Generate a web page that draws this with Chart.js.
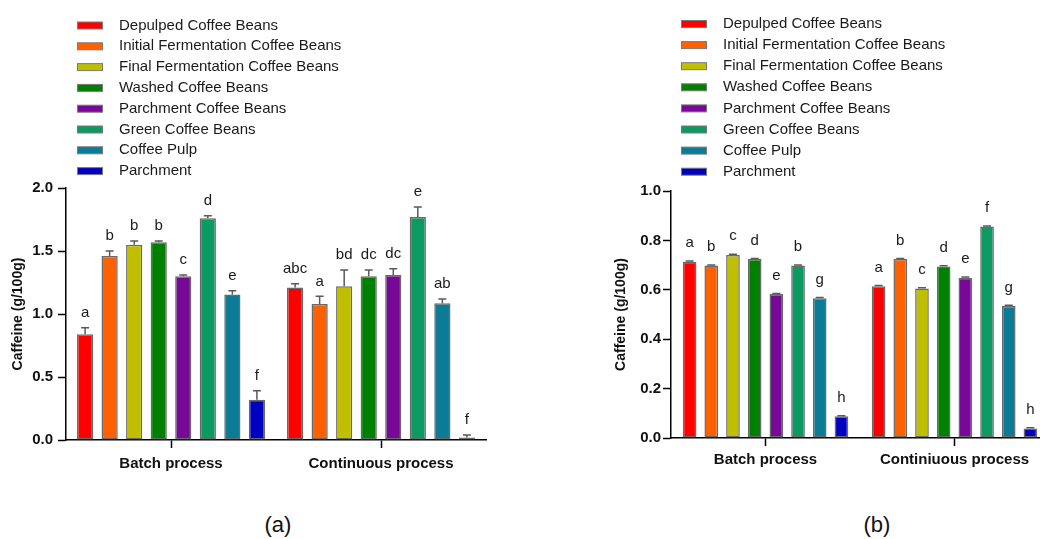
<!DOCTYPE html>
<html>
<head>
<meta charset="utf-8">
<script src="https://cdn.jsdelivr.net/npm/chart.js@4.4.0/dist/chart.umd.min.js"></script>
<style>
  html, body { margin: 0; padding: 0; background: #fff; overflow: hidden; width: 1040px; height: 539px; }
  .panel { position: absolute; top: 0; }
  #panelA { left: 0; }
  #panelB { left: 600px; }
  .cap { position: absolute; top: 512px; width: 60px; text-align: center; font: 22px 'Liberation Sans', Arial, sans-serif; color: #111; }
</style>
</head>
<body>
<canvas id="panelA" class="panel" width="500" height="480"></canvas>
<canvas id="panelB" class="panel" width="450" height="480"></canvas>
<div class="cap" style="left:248px">(a)</div>
<div class="cap" style="left:847px">(b)</div>
<script>
// categories and series
const beanTypes = ['Depulped Coffee Beans', 'Initial Fermentation Coffee Beans', 'Final Fermentation Coffee Beans',
  'Washed Coffee Beans', 'Parchment Coffee Beans', 'Green Coffee Beans', 'Coffee Pulp', 'Parchment'];
const beanColors = ['#ff0000', '#ff6000', '#bfbf00', '#008000', '#780898', '#0b9a62', '#0b7b96', '#0000c0'];

const processesA = ['Batch process', 'Continuous process'];
const processesB = ['Batch process', 'Continiuous process'];

// panel (a)
const caffeineBatchA = [0.84, 1.46, 1.55, 1.57, 1.30, 1.76, 1.155, 0.32];
const caffeineContA  = [1.21, 1.08, 1.22, 1.30, 1.31, 1.77, 1.085, 0.02];
const errBatchA = [0.05, 0.04, 0.03, 0.01, 0.01, 0.02, 0.03, 0.07];
const errContA  = [0.03, 0.06, 0.13, 0.05, 0.05, 0.08, 0.035, 0.02];
const lettersBatchA = ['a', 'b', 'b', 'b', 'c', 'd', 'e', 'f'];
const lettersContA  = ['abc', 'a', 'bd', 'dc', 'dc', 'e', 'ab', 'f'];

// panel (b)
const caffeineBatchB = [0.714, 0.698, 0.741, 0.725, 0.583, 0.698, 0.566, 0.088];
const caffeineContB  = [0.614, 0.725, 0.605, 0.694, 0.649, 0.856, 0.534, 0.038];
const errBatchB = [0.003, 0.002, 0.003, 0.002, 0.002, 0.002, 0.003, 0.002];
const errContB  = [0.003, 0.002, 0.003, 0.003, 0.003, 0.002, 0.003, 0.003];
const lettersBatchB = ['a', 'b', 'c', 'd', 'e', 'b', 'g', 'h'];
const lettersContB  = ['a', 'b', 'c', 'd', 'e', 'f', 'g', 'h'];

const FONT = "'Liberation Sans', Arial, sans-serif";

// one-sided error bars + significance letters
const errorLetters = {
  id: 'errorLetters',
  afterDatasetsDraw(chart, args, opts) {
    const ctx = chart.ctx;
    const y = chart.scales.y;
    chart.data.datasets.forEach((ds, i) => {
      chart.getDatasetMeta(i).data.forEach((bar, j) => {
        const top = y.getPixelForValue(ds.data[j] + ds.errors[j]);
        ctx.save();
        ctx.strokeStyle = '#5a5a5a';
        ctx.lineWidth = 1.5;
        ctx.beginPath();
        ctx.moveTo(bar.x, bar.y);
        ctx.lineTo(bar.x, top);
        ctx.moveTo(bar.x - opts.cap, top);
        ctx.lineTo(bar.x + opts.cap, top);
        ctx.stroke();
        ctx.fillStyle = '#1a1a1a';
        ctx.font = '15px ' + FONT;
        ctx.textAlign = 'center';
        ctx.textBaseline = 'middle';
        ctx.fillText(ds.letters[j], bar.x, top - opts.gap);
        ctx.restore();
      });
    });
  }
};

// vertical legend in the top-left corner
const sideLegend = {
  id: 'sideLegend',
  afterDraw(chart, args, opts) {
    const ctx = chart.ctx;
    ctx.save();
    chart.data.datasets.forEach((ds, i) => {
      const yc = opts.y0 + i * opts.step;
      ctx.fillStyle = ds.backgroundColor;
      ctx.fillRect(opts.x, yc - 3.5, 26, 7);
      ctx.strokeStyle = '#7a7a7a';
      ctx.lineWidth = 1;
      ctx.strokeRect(opts.x + 0.5, yc - 3.5, 25, 7);
      ctx.fillStyle = '#1a1a1a';
      ctx.font = '15px ' + FONT;
      ctx.textAlign = 'left';
      ctx.textBaseline = 'middle';
      ctx.fillText(ds.label, opts.textX, yc);
    });
    ctx.restore();
  }
};

function makeDatasets(batch, cont, errB, errC, letB, letC, barPct, catPct) {
  return beanTypes.map((name, i) => ({
    label: name,
    data: [batch[i], cont[i]],
    errors: [errB[i], errC[i]],
    letters: [letB[i], letC[i]],
    backgroundColor: beanColors[i],
    borderColor: '#6a6a6a',
    borderWidth: 1.5,
    borderSkipped: false,
    barPercentage: barPct,
    categoryPercentage: catPct
  }));
}

function makeChart(id, labels, datasets, cfg) {
  return new Chart(document.getElementById(id), {
    type: 'bar',
    data: { labels: labels, datasets: datasets },
    plugins: [errorLetters, sideLegend],
    options: {
      responsive: false,
      animation: false,
      layout: { padding: { top: cfg.top, right: cfg.right, left: 0, bottom: 0 } },
      plugins: {
        legend: { display: false },
        tooltip: { enabled: false },
        errorLetters: { cap: cfg.cap, gap: cfg.gap },
        sideLegend: { x: cfg.legX, textX: cfg.legTextX, y0: cfg.legY0, step: cfg.legStep }
      },
      scales: {
        x: {
          afterFit: s => { s.height = cfg.xHeight; },
          grid: { display: true, drawOnChartArea: false, offset: false, color: '#000', tickLength: 8, tickWidth: 1.5 },
          border: { color: '#000', width: 1.5 },
          ticks: { color: '#111', padding: cfg.xPad, font: { family: FONT, size: 15, weight: 'bold' } }
        },
        y: {
          min: 0,
          max: cfg.max,
          afterFit: s => { s.width = cfg.yWidth; },
          grid: { drawOnChartArea: false, color: '#000', tickLength: 8, tickWidth: 1.5 },
          border: { color: '#000', width: 1.5 },
          ticks: {
            stepSize: cfg.step,
            color: '#111',
            padding: cfg.yPad,
            font: { family: FONT, size: 15, weight: 'bold' },
            callback: v => v.toFixed(1)
          },
          title: {
            display: true,
            text: 'Caffeine (g/100g)',
            color: '#111',
            padding: { top: cfg.titlePad, bottom: 0 },
            font: { family: FONT, size: 14, weight: 'bold' }
          }
        }
      }
    }
  });
}

makeChart('panelA', processesA,
  makeDatasets(caffeineBatchA, caffeineContA, errBatchA, errContA, lettersBatchA, lettersContA, 0.66, 0.935),
  { top: 188, right: 14, yWidth: 66, xHeight: 40, max: 2, step: 0.5, cap: 4, gap: 15, titlePad: 10,
    xPad: 7, yPad: 5, legX: 77, legTextX: 119, legY0: 25.5, legStep: 20.8 });

makeChart('panelB', processesB,
  makeDatasets(caffeineBatchB, caffeineContB, errBatchB, errContB, lettersBatchB, lettersContB, 0.63, 0.918),
  { top: 191, right: 1, yWidth: 71, xHeight: 42, max: 1, step: 0.2, cap: 4, gap: 18, titlePad: 13,
    xPad: 5, yPad: 2, legX: 81, legTextX: 123, legY0: 24, legStep: 21.1 });
</script>
</body>
</html>
